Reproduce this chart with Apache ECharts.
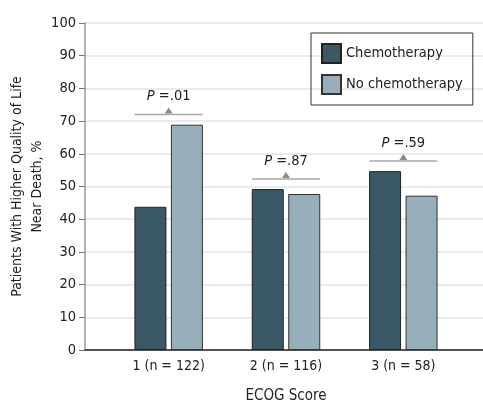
<!DOCTYPE html>
<html>
<head>
<meta charset="utf-8">
<script src="https://cdn.jsdelivr.net/npm/echarts@6/dist/echarts.min.js"></script>
<style>
  html, body { margin: 0; padding: 0; background: #fff; }
  #chart { width: 483px; height: 403px; }
</style>
</head>
<body>
<div id="chart"></div>
<script>
// ECOG groups
var categories = ['1 (n = 122)', '2 (n = 116)', '3 (n = 58)'];
var chemo = [43.8, 49.2, 54.7];
var noChemo = [68.9, 47.7, 47.2];
// p-value brackets (height in %, label)
var pHeights = [72.0, 52.3, 57.8];
var pLabels = ['.01', '.87', '.59'];
var yTicks = { min: 0, max: 100, interval: 10 };

var FONT = 'DejaVu Sans Condensed';
var BAR_W = 32;

var pData = pHeights.map(function (h, i) { return [i, h]; });

var myChart = echarts.init(document.getElementById('chart'));

var option = {
  animation: false,
  textStyle: { fontFamily: FONT },
  grid: [
    { left: 85, right: 0, top: 23, bottom: 53, containLabel: false, outerBoundsMode: 'none' },
    { left: 110, right: 21, top: 23, bottom: 53, containLabel: false, outerBoundsMode: 'none' }
  ],
  legend: {
    orient: 'vertical',
    left: 311,
    top: 33,
    padding: [10, 10, 10, 10],
    borderColor: '#333',
    borderWidth: 1,
    itemWidth: 19,
    itemHeight: 19,
    itemGap: 10,
    icon: 'rect',
    textStyle: { fontFamily: FONT, fontSize: 14.5, color: '#222' },
    data: ['Chemotherapy', 'No chemotherapy']
  },
  xAxis: [
    {
      gridIndex: 0, type: 'value', min: 0, max: 1,
      axisLine: { show: true, lineStyle: { color: '#222', width: 1.5 } },
      axisTick: { show: false }, axisLabel: { show: false }, splitLine: { show: false }
    },
    {
      gridIndex: 1, type: 'category', data: categories,
      axisLine: { show: false }, axisTick: { show: false },
      axisLabel: { fontFamily: FONT, fontSize: 14, color: '#222', margin: 9 },
      name: 'ECOG Score', nameLocation: 'middle', nameGap: 39, nameMoveOverlap: false,
      nameTextStyle: { fontFamily: FONT, fontSize: 15, color: '#222' }
    }
  ],
  yAxis: [
    {
      gridIndex: 0, type: 'value',
      min: yTicks.min, max: yTicks.max, interval: yTicks.interval,
      axisLine: { show: true, lineStyle: { color: '#999', width: 1.5 } },
      axisTick: { show: true, length: 6, lineStyle: { color: '#777' } },
      axisLabel: { fontFamily: FONT, fontSize: 14.5, color: '#222', margin: 9 },
      splitLine: { lineStyle: { color: '#e4e4e4', width: 1.5 } },
      name: 'Patients With Higher Quality of Life\nNear Death, %',
      nameLocation: 'middle', nameGap: 38, nameMoveOverlap: false,
      nameTextStyle: { fontFamily: FONT, fontSize: 14, color: '#222', lineHeight: 20 }
    },
    {
      gridIndex: 1, type: 'value',
      min: yTicks.min, max: yTicks.max, show: false
    }
  ],
  series: [
    {
      name: 'Chemotherapy', type: 'bar', xAxisIndex: 1, yAxisIndex: 1,
      data: chemo, barWidth: BAR_W, barGap: '14%',
      itemStyle: { color: '#3b5866', borderColor: '#222', borderWidth: 1 }
    },
    {
      name: 'No chemotherapy', type: 'bar', xAxisIndex: 1, yAxisIndex: 1,
      data: noChemo, barWidth: BAR_W, barGap: '14%',
      itemStyle: { color: '#96afbb', borderColor: '#333', borderWidth: 1 }
    },
    {
      type: 'custom', xAxisIndex: 1, yAxisIndex: 1,
      data: pData,
      renderItem: function (params, api) {
        var pt = api.coord([api.value(0), api.value(1)]);
        var x = pt[0], y = pt[1];
        var half = 34;
        return {
          type: 'group',
          children: [
            {
              type: 'line',
              shape: { x1: x - half, y1: y, x2: x + half, y2: y },
              style: { stroke: '#a8a8a8', lineWidth: 1.5 }
            },
            {
              type: 'polygon',
              shape: { points: [[x - 4, y - 1], [x + 4, y - 1], [x, y - 7]] },
              style: { fill: '#8c8c8c' }
            },
            {
              type: 'text',
              x: x, y: y - 18,
              style: {
                text: '{i|P} =' + pLabels[params.dataIndex],
                align: 'center', verticalAlign: 'middle',
                fontFamily: FONT, fontSize: 14.5, fill: '#222',
                rich: { i: { fontStyle: 'italic', fontFamily: FONT, fontSize: 14.5 } }
              }
            }
          ]
        };
      }
    }
  ]
};

myChart.setOption(option);
</script>
</body>
</html>
